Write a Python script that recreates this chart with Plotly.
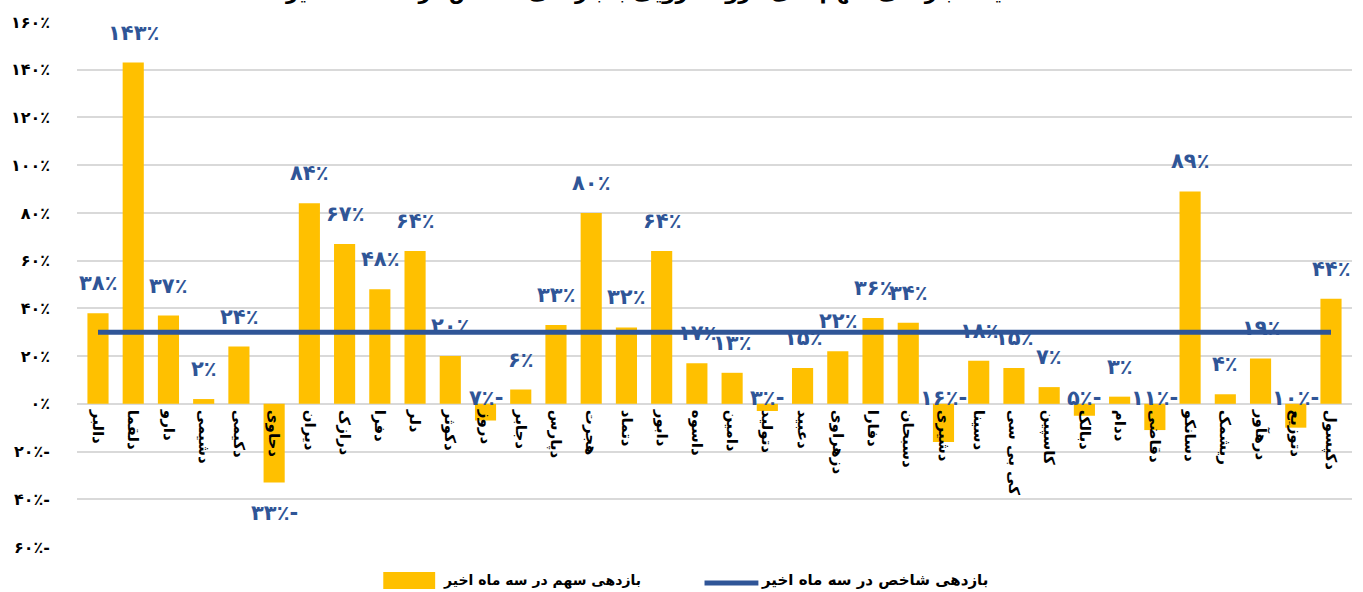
import plotly.graph_objects as go

categories = ["دالبر", "دلقما", "دارو", "دشیمی", "دکیمی", "دحاوی", "دیران", "درازک", "دفرا", "دلر",
              "دکوثر", "دروز", "دجابر", "دپارس", "هجرت", "دتماد", "دابور", "داسوه", "دامین", "دتولید",
              "دعبید", "دزهراوی", "دفارا", "دسبحان", "دشیری", "دسینا", "کی بی سی", "کاسپین", "دبالک", "ددام",
              "دقاضی", "دسانکو", "ریشمک", "درهآور", "دتوزیع", "دکپسول"]
stock_returns = [38, 143, 37, 2, 24, -33, 84, 67, 48, 64,
                 20, -7, 6, 33, 80, 32, 64, 17, 13, -3,
                 15, 22, 36, 34, -16, 18, 15, 7, -5, 3,
                 -11, 89, 4, 19, -10, 44]
index_returns = [30, 30, 30, 30, 30, 30, 30, 30, 30, 30,
                 30, 30, 30, 30, 30, 30, 30, 30, 30, 30,
                 30, 30, 30, 30, 30, 30, 30, 30, 30, 30,
                 30, 30, 30, 30, 30, 30]
y_ticks = [160, 140, 120, 100, 80, 60, 40, 20, 0, -20, -40, -60]

series_stock = "بازدهی سهم در سه ماه اخیر"
series_index = "بازدهی شاخص در سه ماه اخیر"
title_text = "مقایسه بازدهی سهم های گروه دارویی با بازدهی شاخص در سه ماه اخیر"

FA = str.maketrans("0123456789", "۰۱۲۳۴۵۶۷۸۹")


def fa_pct(v):
    s = str(abs(v)).translate(FA) + "٪"
    return s + "-" if v < 0 else s


GOLD = "#FFC000"
BLUE = "#2F5597"
FONT = "DejaVu Sans"

fig = go.Figure()
fig.add_trace(go.Bar(x=categories, y=stock_returns, marker=dict(color=GOLD, line=dict(width=0)),
                     name=series_stock, showlegend=False))
fig.add_trace(go.Scatter(x=categories, y=index_returns, mode="lines",
                         line=dict(color=BLUE, width=5), name=series_index, showlegend=False))

# data labels
for c, v in zip(categories, stock_returns):
    if v >= 0:
        y, ys = v, 30
    elif v <= -20:
        y, ys = v, -30
    else:
        y, ys = 0, 6
    fig.add_annotation(x=c, y=y, yshift=ys, text=fa_pct(v), showarrow=False,
                       font=dict(family=FONT, size=21, color=BLUE, weight="bold"),
                       xanchor="center", yanchor="middle")

W, H = 1363, 592
L, R, T, B = 74, 11, 22, 45
pw, ph = W - L - R, H - T - B


def px(x):
    return (x - L) / pw


def py(y):
    return (H - B - y) / ph


# custom legend
fig.add_shape(type="rect", xref="paper", yref="paper", x0=px(381), x1=px(433), y0=py(589), y1=py(572),
              fillcolor=GOLD, line=dict(width=0))
fig.add_annotation(xref="paper", yref="paper", x=px(439), y=py(580), text=series_stock, showarrow=False,
                   xanchor="left", yanchor="middle", font=dict(family=FONT, size=14, color="black", weight="bold"))
fig.add_shape(type="line", xref="paper", yref="paper", x0=px(703), x1=px(757), y0=py(583), y1=py(583),
              line=dict(color=BLUE, width=5))
fig.add_annotation(xref="paper", yref="paper", x=px(758), y=py(580), text=series_index, showarrow=False,
                   xanchor="left", yanchor="middle", font=dict(family=FONT, size=15, color="black", weight="bold"))

# title (mostly cut off at top)
fig.add_annotation(xref="paper", yref="paper", x=px(660), y=py(6), text=title_text, showarrow=False,
                   xanchor="center", yanchor="bottom", font=dict(family=FONT, size=21, color="black", weight="bold"))

fig.update_layout(
    width=W, height=H,
    margin=dict(l=L, r=R, t=T, b=B),
    paper_bgcolor="white", plot_bgcolor="white",
    bargap=0.4,
    showlegend=False,
    xaxis=dict(anchor="free", position=60 / 220, showgrid=False, showline=False, ticks="",
               tickangle=90, tickfont=dict(family=FONT, size=15, color="black", weight="bold"),
               ticklabelstandoff=5,
               categoryorder="array", categoryarray=categories),
    yaxis=dict(range=[-60, 160], tickvals=y_ticks, ticktext=[fa_pct(t) for t in y_ticks],
               showgrid=True, gridcolor="#D9D9D9", gridwidth=1.5, zeroline=False,
               tickfont=dict(family=FONT, size=16, color="black", weight="bold"), ticks="",
               ticklabelstandoff=26),
)

fig.write_html("out.html", config={"displayModeBar": False},
               post_script="document.body.style.margin='0';")
